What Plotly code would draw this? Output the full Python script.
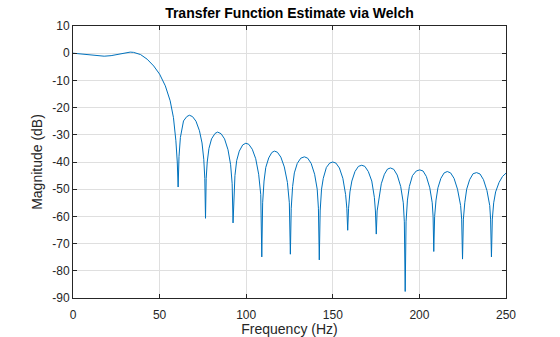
import plotly.graph_objects as go

# Frequency (Hz) and magnitude (dB)
freq_hz = [
    0, 5, 10, 14, 18, 22, 27, 31, 33, 35, 37, 39, 42.8, 46.6, 50, 53.3, 56.1, 58, 59.4, 60.2, 60.7,
    61.2, 62.0, 63.8, 65.7, 67.2, 69, 71, 73, 74.5, 75.5, 76.1, 76.5,
    76.9, 77.5, 78.5, 80, 82, 83.5, 85.5, 87.5, 89.5, 91, 91.9, 92.4,
    92.8, 93.5, 94.5, 96, 98, 99.8, 101.5, 103.5, 105.5, 107.2, 108.4, 109,
    109.5, 110.3, 111.3, 113, 114.8, 116.3, 118, 120, 122, 123.8, 124.9, 125.5,
    126, 126.8, 127.8, 129.5, 131.5, 133.6, 135.5, 137.5, 139.5, 141, 141.7, 142.2,
    142.7, 143.5, 144.5, 146.3, 148.2, 150, 151.8, 153.8, 155.8, 157.4, 158.1, 158.6,
    159.1, 159.9, 161, 162.8, 164.8, 166.7, 168.5, 170.5, 172.5, 174, 174.6, 175.1,
    175.6, 176.8, 178, 179.8, 181.6, 183.3, 185.2, 187.2, 189.2, 190.7, 191.3, 191.8,
    192.3, 193.1, 194.2, 196, 198.2, 200.2, 202.1, 204, 206, 207.4, 207.9, 208.3,
    208.8, 209.6, 210.7, 212.4, 214.3, 216.1, 218, 220, 222, 223.8, 224.4, 224.9,
    225.4, 226.2, 227.3, 229, 231, 233, 235, 237, 239, 240.6, 241.1, 241.6,
    242.1, 242.9, 244, 246, 248, 250,
]
mag_db = [
    0, -0.3, -0.7, -1.0, -1.1, -0.9, -0.3, 0.3, 0.4, 0.3, 0.0, -0.5, -2.2, -4.7, -7.7, -12.0, -17.5, -23.7, -32.2, -40.0, -49.2,
    -38.0, -31.0, -24.9, -23.3, -22.8, -23.3, -25.0, -28.5, -33.0, -39.0, -46.0, -60.7,
    -46.0, -40.0, -35.0, -31.5, -29.5, -29.0, -29.6, -31.5, -35.5, -41.0, -48.0, -62.4,
    -52.0, -45.0, -39.5, -36.0, -33.7, -33.1, -33.5, -35.3, -38.8, -44.5, -52.0, -74.9,
    -55.0, -47.0, -42.0, -38.5, -36.5, -36.0, -36.4, -38.2, -41.8, -47.5, -55.0, -73.9,
    -57.0, -49.0, -44.0, -40.5, -38.6, -38.1, -38.6, -40.5, -44.5, -50.0, -57.0, -76.0,
    -58.0, -50.0, -46.0, -42.0, -40.4, -40.0, -40.4, -42.2, -46.0, -52.0, -57.0, -65.1,
    -57.0, -51.0, -47.0, -43.5, -41.6, -41.2, -41.6, -43.5, -47.0, -53.0, -58.0, -66.5,
    -58.0, -52.0, -48.0, -44.5, -42.6, -42.2, -42.7, -44.8, -49.0, -55.0, -62.0, -87.6,
    -62.0, -54.0, -49.0, -45.0, -43.3, -42.9, -43.3, -45.3, -49.5, -55.0, -60.0, -72.9,
    -60.0, -54.0, -49.5, -46.0, -44.0, -43.5, -44.0, -46.0, -50.0, -56.0, -61.0, -75.7,
    -61.0, -55.0, -50.0, -46.5, -44.3, -43.9, -44.4, -46.5, -50.5, -56.0, -61.0, -74.9,
    -61.0, -55.0, -51.0, -47.5, -45.3, -44.1,
]

x_ticks = [0, 50, 100, 150, 200, 250]
y_ticks = [10, 0, -10, -20, -30, -40, -50, -60, -70, -80, -90]

FONT = "Liberation Sans, Arial, Helvetica, sans-serif"
AX = "#262626"
GRID = "#dfdfdf"

L, R, T, B = 73, 54, 26, 39

fig = go.Figure(
    go.Scatter(
        x=freq_hz, y=mag_db, mode="lines",
        line=dict(color="#0072BD", width=1),
        hoverinfo="skip",
    )
)

fig.update_layout(
    width=560, height=337,
    margin=dict(l=L, r=R, t=T, b=B, autoexpand=False),
    paper_bgcolor="white", plot_bgcolor="white",
    showlegend=False,
    font=dict(family=FONT, color=AX, size=12),
    title=dict(
        text="<b>Transfer Function Estimate via Welch</b>",
        x=(L + 560 - R) / 2 / 560, xanchor="center",
        y=1 - 13 / 337, yanchor="middle",
        font=dict(family=FONT, size=14, color="black"),
    ),
)

fig.update_xaxes(
    range=[0, 250], tickvals=x_ticks, ticktext=[str(v) for v in x_ticks],
    showgrid=True, gridcolor=GRID, gridwidth=1,
    showline=True, linecolor=AX, linewidth=1, mirror="ticks",
    ticks="inside", ticklen=4, tickcolor=AX,
    zeroline=False, ticklabelstandoff=6, automargin=False,
    title=dict(text="Frequency (Hz)", font=dict(size=14, family=FONT, color=AX), standoff=2),
    tickfont=dict(size=12, family=FONT, color=AX),
)
fig.update_yaxes(
    range=[-90, 10], tickvals=y_ticks, ticktext=[str(v) for v in y_ticks],
    showgrid=True, gridcolor=GRID, gridwidth=1,
    showline=True, linecolor=AX, linewidth=1, mirror="ticks",
    ticks="inside", ticklen=4, tickcolor=AX,
    zeroline=False, automargin=False,
    title=dict(text="Magnitude (dB)", font=dict(size=14, family=FONT, color=AX), standoff=6),
    tickfont=dict(size=12, family=FONT, color=AX),
)

fig.write_html("out.html")
